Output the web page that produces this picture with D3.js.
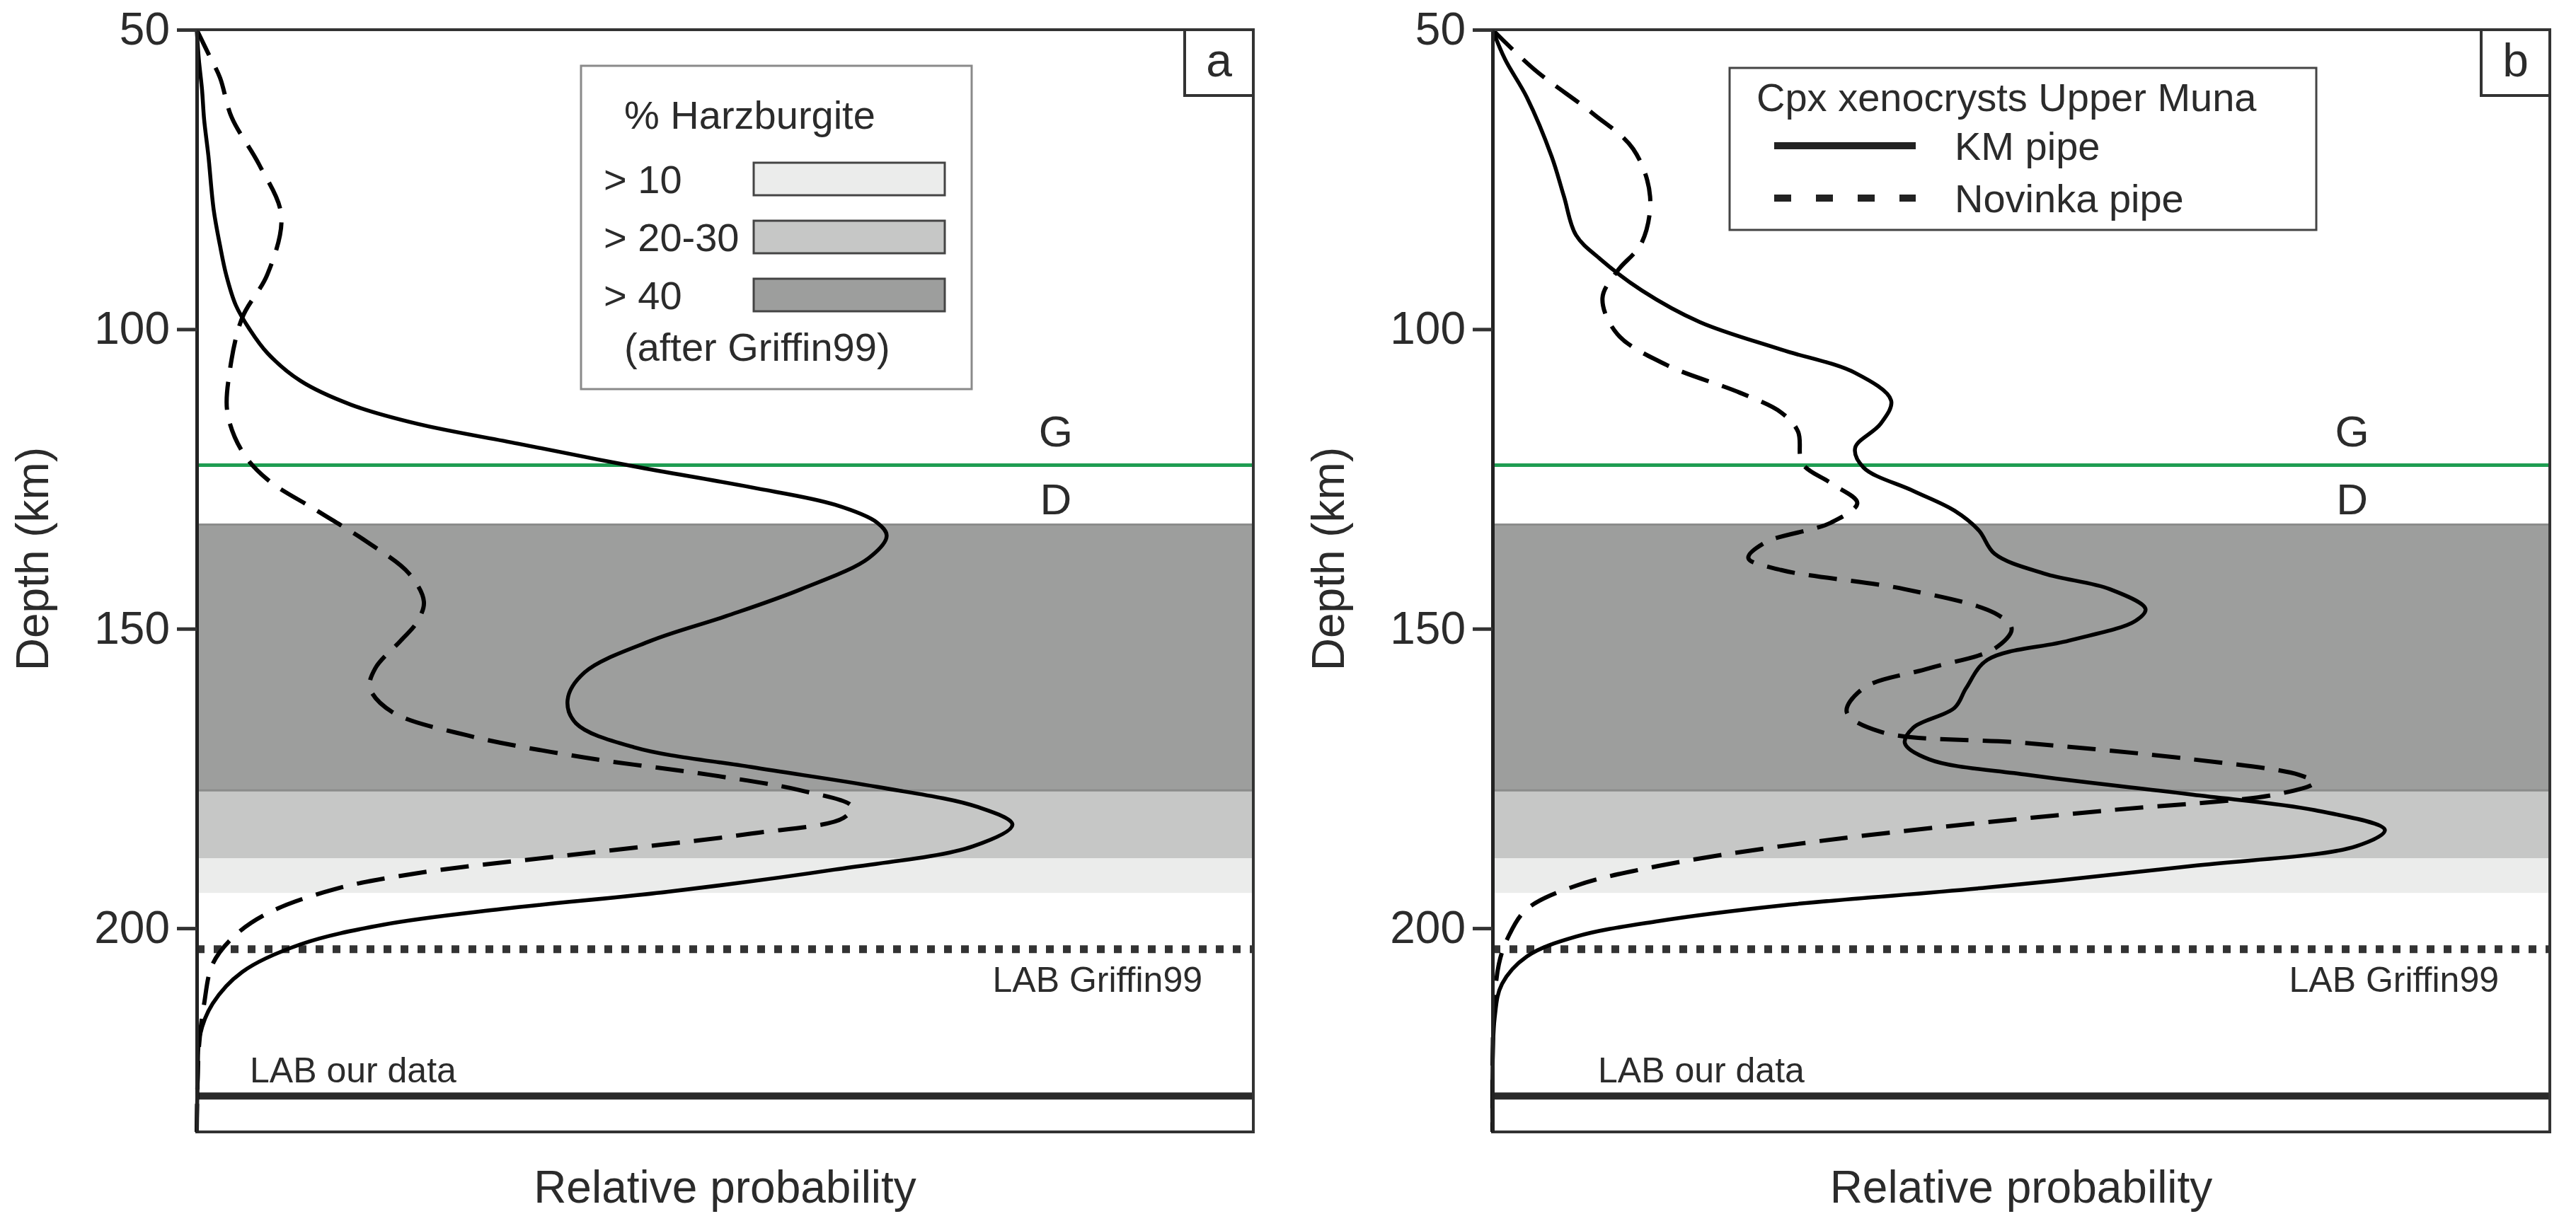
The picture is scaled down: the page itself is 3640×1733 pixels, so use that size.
<!DOCTYPE html>
<html><head><meta charset="utf-8">
<script src="https://cdn.jsdelivr.net/npm/d3@7"></script>
<style>
body{margin:0;background:#fff;}
text{font-family:"Liberation Sans",Arial,Helvetica,sans-serif;fill:#2b2b2b;}
</style>
</head><body>
<svg id="chart" width="3640" height="1733"></svg>
<script>
// ---------------- DATA ----------------
const depthTicks = [50, 100, 150, 200];
const depthDomain = [50, 234];
const panelIds = ["a", "b"];

const bandNames = ["> 10", "> 20-30", "> 40"];
const bandTop = [188.3, 177.0, 132.6];
const bandBottom = [194.1, 188.3, 177.0];

const gdBoundary = 122.7;     // graphite / diamond
const labGriffin = 203.5;     // LAB Griffin99
const labOurData = 228;       // LAB our data

// Panel a
const aSolidDepth = [50, 55, 60, 65, 71, 80, 86, 91, 96, 100, 104, 108.6, 112.6, 115.8, 119.1, 122.9, 126.4, 129.3, 132.3, 134.5, 138.2, 143.4, 147.9, 152, 157.3, 161.9, 165.8, 169.8, 173.1, 176.4, 179.7, 182.7, 186.3, 190.2, 193.9, 196.8, 199.4, 202.7, 207.3, 212.6, 217.9, 225, 234];
const aSolidProb  = [0, 0.002, 0.005, 0.007, 0.011, 0.016, 0.022, 0.028, 0.037, 0.05, 0.067, 0.098, 0.146, 0.209, 0.304, 0.414, 0.525, 0.604, 0.644, 0.653, 0.636, 0.572, 0.501, 0.43, 0.367, 0.351, 0.359, 0.414, 0.525, 0.644, 0.738, 0.772, 0.735, 0.604, 0.446, 0.288, 0.177, 0.098, 0.043, 0.015, 0.003, 0.001, 0];
const aDashDepth = [50, 54, 58, 64.6, 72.5, 81, 90.8, 98.1, 107.3, 113.9, 120.4, 125.1, 130.3, 135.6, 140.8, 145.5, 149, 152, 156.6, 159.9, 163.9, 167.8, 171.5, 174.4, 177, 179.7, 181.6, 184.2, 187.5, 190.8, 193.5, 197.5, 201.4, 206, 212.6, 220, 234];
const aDashProb  = [0, 0.011, 0.022, 0.033, 0.059, 0.08, 0.067, 0.043, 0.031, 0.029, 0.043, 0.067, 0.114, 0.162, 0.201, 0.215, 0.208, 0.193, 0.169, 0.164, 0.185, 0.256, 0.367, 0.486, 0.572, 0.62, 0.612, 0.525, 0.367, 0.209, 0.13, 0.067, 0.035, 0.015, 0.007, 0.002, 0];

// Panel b
const bSeriesNames = ["KM pipe", "Novinka pipe"];
const bSolidDepth = [50, 55, 61.3, 71.2, 77.8, 84.3, 88.3, 93.5, 98.8, 103.4, 107.3, 111.9, 115.8, 119.8, 123.1, 127, 130.3, 133.6, 137.5, 140.8, 143.4, 146.7, 148.7, 152, 155.2, 159.9, 163.2, 166.5, 169.1, 171.8, 174.4, 177.7, 180.3, 183.6, 186.3, 189.6, 193.2, 196.2, 198.8, 201.4, 204.7, 209.3, 215, 234];
const bSolidProb  = [0, 0.012, 0.0325, 0.056, 0.0675, 0.079, 0.102, 0.141, 0.196, 0.273, 0.343, 0.377, 0.367, 0.343, 0.351, 0.398, 0.437, 0.46, 0.475, 0.522, 0.584, 0.6176, 0.608, 0.545, 0.468, 0.448, 0.437, 0.398, 0.39, 0.413, 0.506, 0.662, 0.778, 0.844, 0.817, 0.662, 0.468, 0.273, 0.157, 0.079, 0.0325, 0.009, 0.002, 0];
const bDashDepth = [50, 56.7, 64, 69.9, 77.8, 85.6, 90.3, 94.8, 100.8, 106, 110.6, 113.9, 117.1, 122.4, 125.7, 129, 132.3, 135.6, 138.2, 140.2, 143.4, 147.4, 150, 153.3, 156.6, 159.9, 163.9, 167.2, 169.1, 171.8, 174.4, 175.7, 177.7, 180.3, 183, 186.3, 189.6, 192.9, 196.8, 201.4, 206, 215, 234];
const bDashProb  = [0, 0.04, 0.095, 0.133, 0.149, 0.141, 0.118, 0.104, 0.118, 0.165, 0.234, 0.273, 0.289, 0.293, 0.32, 0.345, 0.32, 0.258, 0.242, 0.273, 0.39, 0.475, 0.491, 0.475, 0.413, 0.351, 0.335, 0.367, 0.506, 0.662, 0.763, 0.777, 0.74, 0.584, 0.429, 0.273, 0.157, 0.079, 0.0325, 0.015, 0.006, 0.001, 0];

// ---------------- LAYOUT / STYLE ----------------
const bandFill = ["#ebeceb", "#c6c7c6", "#9d9e9d"];
const panels = [
  {id: "a", left: 278, right: 1771, series: [[aSolidDepth, aSolidProb, false], [aDashDepth, aDashProb, true]]},
  {id: "b", left: 2109, right: 3603, series: [[bSolidDepth, bSolidProb, false], [bDashDepth, bDashProb, true]]}
];
const plotTop = 42, plotBottom = 1600;
const svg = d3.select("#chart");
svg.append("rect").attr("width", 3640).attr("height", 1733).attr("fill", "#fff");

const y = d3.scaleLinear().domain(depthDomain).range([plotTop, plotBottom]);

panels.forEach((p, pi) => {
  const x = d3.scaleLinear().domain([0, 1]).range([p.left, p.right]);
  const g = svg.append("g");
  const W = p.right - p.left;

  // bands
  bandNames.forEach((n, i) => {
    g.append("rect").attr("x", p.left).attr("width", W)
      .attr("y", y(bandTop[i])).attr("height", y(bandBottom[i]) - y(bandTop[i]))
      .attr("fill", bandFill[i]);
  });
  [bandTop[2], bandBottom[2]].forEach(d => {
    g.append("line").attr("x1", p.left).attr("x2", p.right).attr("y1", y(d)).attr("y2", y(d))
      .attr("stroke", "#8b8c8b").attr("stroke-width", 3);
  });

  // G/D boundary
  g.append("line").attr("x1", p.left).attr("x2", p.right)
    .attr("y1", y(gdBoundary)).attr("y2", y(gdBoundary))
    .attr("stroke", "#1f9d52").attr("stroke-width", 5);
  const gx = p.left + 0.813 * W;
  g.append("text").attr("x", gx).attr("y", y(gdBoundary) - 27).attr("text-anchor", "middle")
    .attr("font-size", 62).text("G");
  g.append("text").attr("x", gx).attr("y", y(gdBoundary) + 69).attr("text-anchor", "middle")
    .attr("font-size", 62).text("D");

  // LAB lines
  g.append("line").attr("x1", p.left).attr("x2", p.right)
    .attr("y1", y(labGriffin)).attr("y2", y(labGriffin))
    .attr("stroke", "#333").attr("stroke-width", 11).attr("stroke-dasharray", "11 13");
  g.append("text").attr("x", p.right - 72).attr("y", y(labGriffin) + 60).attr("text-anchor", "end")
    .attr("font-size", 50).text("LAB Griffin99");
  g.append("line").attr("x1", p.left).attr("x2", p.right)
    .attr("y1", y(labOurData)).attr("y2", y(labOurData))
    .attr("stroke", "#2a2a2a").attr("stroke-width", 10);
  g.append("text").attr("x", p.left + (pi === 0 ? 75 : 149)).attr("y", y(labOurData) - 19)
    .attr("font-size", 50).text("LAB our data");

  // curves
  const line = d3.line().x(d => x(d[1])).y(d => y(d[0])).curve(d3.curveCatmullRom.alpha(0.5));
  p.series.forEach(([dep, prob, dashed]) => {
    const pts = dep.map((d, i) => [d, prob[i]]);
    g.append("path").datum(pts).attr("d", line).attr("fill", "none")
      .attr("stroke", "#000").attr("stroke-width", dashed ? 6 : 5.5)
      .attr("stroke-dasharray", dashed ? "40 20" : null);
  });

  // frame
  g.append("rect").attr("x", p.left).attr("y", plotTop).attr("width", W).attr("height", plotBottom - plotTop)
    .attr("fill", "none").attr("stroke", "#333").attr("stroke-width", 4);

  // axis
  const ax = g.append("g").attr("transform", `translate(${p.left},0)`)
    .call(d3.axisLeft(y).tickValues(depthTicks).tickSize(28).tickSizeOuter(0).tickPadding(10));
  ax.select(".domain").attr("stroke", "#222").attr("stroke-width", 5);
  ax.selectAll(".tick line").attr("stroke", "#333").attr("stroke-width", 5);
  ax.selectAll(".tick text").attr("font-size", 64).attr("fill", "#2b2b2b")
    .style("font-family", '"Liberation Sans",Arial,sans-serif');

  // axis titles
  g.append("text").attr("transform", `translate(${p.left - 210},790) rotate(-90)`)
    .attr("text-anchor", "middle").attr("font-size", 64).text("Depth (km)");
  g.append("text").attr("x", (p.left + p.right) / 2).attr("y", 1700).attr("text-anchor", "middle")
    .attr("font-size", 64).text("Relative probability");

  // panel label box
  g.append("rect").attr("x", p.right - 97).attr("y", plotTop).attr("width", 97).attr("height", 93)
    .attr("fill", "#fff").attr("stroke", "#333").attr("stroke-width", 4);
  g.append("text").attr("x", p.right - 48.5).attr("y", plotTop + 66).attr("text-anchor", "middle")
    .attr("font-size", 66).text(panelIds[pi]);
});

// Legend a
(function(){
  const g = svg.append("g");
  g.append("rect").attr("x", 821).attr("y", 93).attr("width", 552).attr("height", 457)
    .attr("fill", "#fff").attr("stroke", "#8a8a8a").attr("stroke-width", 3);
  g.append("text").attr("x", 882).attr("y", 182).attr("font-size", 56).text("% Harzburgite");
  const rowY = d3.scalePoint().domain(bandNames).range([253, 417]);
  bandNames.forEach((n, i) => {
    g.append("text").attr("x", 853).attr("y", rowY(n) + 20).attr("font-size", 56).text(n);
    g.append("rect").attr("x", 1065).attr("y", rowY(n) - 23).attr("width", 270).attr("height", 46)
      .attr("fill", bandFill[i]).attr("stroke", "#444").attr("stroke-width", 3);
  });
  g.append("text").attr("x", 882).attr("y", 510).attr("font-size", 56).text("(after Griffin99)");
})();

// Legend b
(function(){
  const g = svg.append("g");
  g.append("rect").attr("x", 2444).attr("y", 96).attr("width", 829).attr("height", 229)
    .attr("fill", "#fff").attr("stroke", "#444").attr("stroke-width", 3);
  g.append("text").attr("x", 2482).attr("y", 157).attr("font-size", 56).text("Cpx xenocrysts Upper Muna");
  const rowY = d3.scalePoint().domain(bSeriesNames).range([206, 280]);
  bSeriesNames.forEach((n, i) => {
    g.append("line").attr("x1", 2507).attr("x2", 2707).attr("y1", rowY(n)).attr("y2", rowY(n))
      .attr("stroke", "#222").attr("stroke-width", 10)
      .attr("stroke-dasharray", i === 1 ? "24 35" : null);
    g.append("text").attr("x", 2762).attr("y", rowY(n) + 20).attr("font-size", 56).text(n);
  });
})();
</script>
</body></html>
